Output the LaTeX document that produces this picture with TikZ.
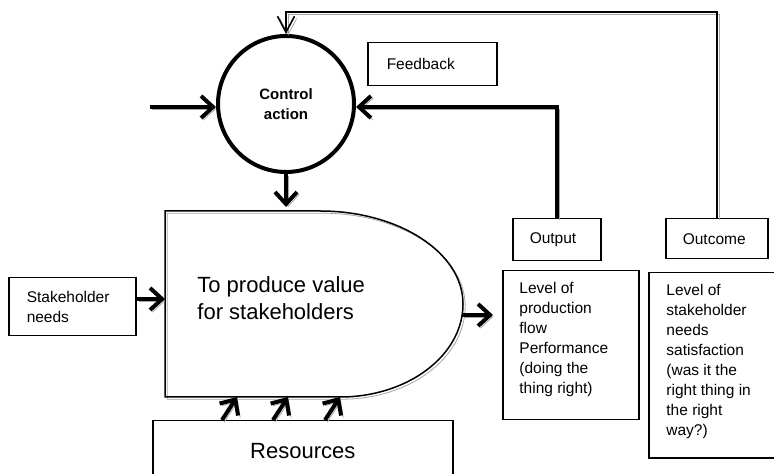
\documentclass[tikz,border=0pt]{standalone}
\usepackage{fontspec}
\setmainfont{Liberation Sans}
\usetikzlibrary{arrows.meta,positioning}

\tikzset{
  shade line/.style={preaction={draw=black!35, transform canvas={shift={(1.1pt,-1.1pt)}}}},
  flow/.style={line width=2pt, shade line, -{Straight Barb[length=6pt,width=11pt]}},
  fbline/.style={line width=0.8pt, shade line, -{Straight Barb[length=8pt,width=8.5pt]}},
  box/.style={draw, line width=0.75pt, rectangle, anchor=north west, inner ysep=0pt},
  small/.style={font=\fontsize{7.75}{10}\selectfont, align=left},
  big/.style={font=\fontsize{11}{13.3}\selectfont, align=left},
}

\begin{document}
\begin{tikzpicture}[x=0.5pt, y=-0.5pt]
  \useasboundingbox (0,0) rectangle (774,474);

  % control loop
  \node[circle, draw, line width=2pt, minimum size=68pt, align=center,
        font=\bfseries\fontsize{7.5}{10}\selectfont] (ctrl) at (286,104) {Control\\action};
  \node[box, small, inner xsep=9.5pt, text width=45.5pt, minimum height=21.5pt] (feedback) at (367,42) {Feedback};

  % process
  \draw[line width=0.75pt, shade line] (165,211) -- (320,211)
      arc[start angle=90, end angle=0, x radius=71.5pt, y radius=46.5pt]
      arc[start angle=0, end angle=-90, x radius=61.5pt, y radius=46.5pt]
      -- (165,397) -- cycle;
  \node[big, anchor=west, inner sep=0pt] (proctext) at (197,298) {To produce value\\for stakeholders};
  \coordinate (proctop) at (286,211);
  \coordinate (procin) at (165,299);
  \coordinate (procout) at (462,315);

  % inputs
  \node[box, small, inner xsep=9pt, text width=45.5pt, minimum height=29pt] (needs) at (8,277) {Stakeholder\\needs};
  \node[box, big, align=center, minimum width=150pt, minimum height=30pt] (res) at (152,420) {Resources};
  \coordinate (in) at (150,107);

  % results
  \node[box, small, inner xsep=8.5pt, text width=27pt, minimum height=21pt] (output) at (512,218) {Output};
  \node[box, small, inner xsep=8.5pt, text width=34pt, minimum height=20pt] (outcome) at (665,218) {Outcome};
  \node[box, minimum width=68pt, minimum height=74.5pt] (perf) at (502,270) {};
  \node[small, anchor=north west, inner sep=0pt] (perftext) at (519,282)
      {Level of\\production\\flow\\Performance\\(doing the\\thing right)};
  \node[box, minimum width=63.5pt, minimum height=92.5pt] (satis) at (648,272) {};
  \node[small, anchor=north west, inner sep=0pt] (satistext) at (666,284)
      {Level of\\stakeholder\\needs\\satisfaction\\(was it the\\right thing in\\the right\\way?)};
  \coordinate (fbtop) at (500,12);

  % connectors
  \draw[flow] (in) -- (ctrl.west |- in);
  \draw[flow] (output.north) |- (ctrl.east |- in);
  \draw[flow, shorten >=2pt] (ctrl) -- (proctop);
  \draw[flow] (needs.east |- procin) -- (procin);
  \draw[flow, shorten >=4.5pt] (procout) -- (perf.west |- procout);
  \foreach \dx in {35,60.5,86.5}
    \draw[flow] ([xshift=\dx pt]res.north west) -- ++(7.5pt,11.5pt);
  \draw[fbline] (outcome.north) |- (fbtop) -| (ctrl.north);
\end{tikzpicture}
\end{document}
